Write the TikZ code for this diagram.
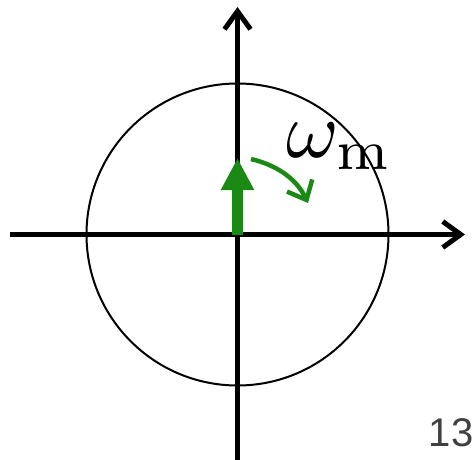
\documentclass[tikz,border=0pt]{standalone}
\usetikzlibrary{arrows.meta}
\usepackage{fontspec}
\newfontfamily\labelsans{Liberation Sans}
\definecolor{rotgreen}{RGB}{27,138,20}
\definecolor{pagegray}{RGB}{64,64,64}
\begin{document}
\begin{tikzpicture}[x=1pt,y=-1pt,
  axis/.style={line width=5pt,-{Straight Barb[length=18pt,width=26pt]}},
  rim/.style={line width=2pt},
  spin/.style={rotgreen,line width=4.5pt,-{Straight Barb[length=16pt,width=28pt]}},
  vec/.style={rotgreen,line width=11pt,-{Triangle[length=32pt,width=31pt]}}]
\useasboundingbox (0,0) rectangle (474,460);
\coordinate (O) at (237.5,234.5);
\coordinate (xl) at (10,234.5);
\coordinate (xr) at (465,234.5);
\coordinate (yb) at (237.5,462);
\coordinate (yt) at (237.5,7);
\coordinate (vtip) at (237.5,158);
\coordinate (s0) at (251,159);
\coordinate (s1) at (308,203);
\draw[rim] (O) circle[radius=151];
\draw[axis] (xl) -- (xr);
\draw[axis] (yb) -- (yt);
\draw[vec] (O) -- (vtip);
\draw[spin] (s0) .. controls (276,165) and (296,178) .. (s1);
\node[font=\fontsize{10}{12}\selectfont,scale=8] (w) at (340,146) {$\omega_{\mathrm{m}}$};
\node[font=\labelsans\fontsize{40}{44}\selectfont,text=pagegray,anchor=east,inner sep=0pt] (pg) at (473.5,433) {13};
\end{tikzpicture}
\end{document}
